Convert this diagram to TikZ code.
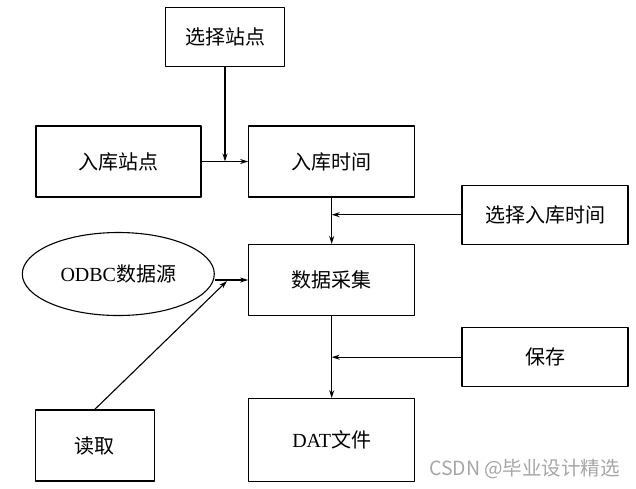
\documentclass[tikz,border=0pt]{standalone}
\usepackage{fontspec}
\setmainfont{Liberation Serif}
\newfontfamily\cjk{Noto Sans CJK SC}
\usetikzlibrary{shapes.geometric, arrows.meta}
\begin{document}
\begin{tikzpicture}[x=1pt, y=-1pt, font=\fontsize{20}{24}\selectfont, line join=round, >={Stealth[length=8pt,width=5pt]},
	box/.style={draw, line width=1.1pt, inner sep=0pt},
	flow/.style={line width=1.1pt, ->}]
		\useasboundingbox (0,0) rectangle (636,488);
		\node[box, minimum width=119pt, minimum height=59pt] (xzzd) at (225,37) {\cjk 选择站点};
		\node[box, minimum width=165pt, minimum height=71pt] (rkzd) at (118.5,161.5) {\cjk 入库站点};
		\node[box, minimum width=166pt, minimum height=71pt] (rksj) at (331.7,161.5) {\cjk 入库时间};
		\node[box, minimum width=166pt, minimum height=59pt] (xzrksj) at (545,214.7) {\cjk 选择入库时间};
		\node[box, ellipse, minimum width=192pt, minimum height=83pt] (odbc) at (118.3,274) {ODBC{\cjk 数据源}};
		\node[box, minimum width=166pt, minimum height=71pt] (sjcj) at (331.7,280) {\cjk 数据采集};
		\node[box, minimum width=166pt, minimum height=59pt] (bc) at (545,357.2) {\cjk 保存};
		\node[box, minimum width=119pt, minimum height=71pt] (dq) at (94.7,445.5) {\cjk 读取};
		\node[box, minimum width=166pt, minimum height=83pt] (dat) at (331.7,440.2) {DAT{\cjk 文件}};
		\path	(xzzd.south |- rkzd.east) coordinate (J1)
				(rksj.south |- xzrksj.west) coordinate (J2)
				(227,281) coordinate (J3)
				(sjcj.south |- bc.west) coordinate (J4);
		\draw[flow] (xzzd) -- (J1);
		\draw[flow] (rkzd) -- (rksj);
		\draw[flow] (rksj) -- (sjcj);
		\draw[flow] (xzrksj) -- (J2);
		\draw[flow] (odbc.east |- sjcj.west) -- (sjcj.west);
		\draw[flow] (dq.north) -- (J3);
		\draw[flow] (sjcj) -- (dat);
		\draw[flow] (bc) -- (J4);
		\node[text=gray!70, font=\fontsize{19.5}{23}\selectfont] (wm) at (524.5,469) {\cjk CSDN @毕业设计精选};
\end{tikzpicture}
\end{document}
